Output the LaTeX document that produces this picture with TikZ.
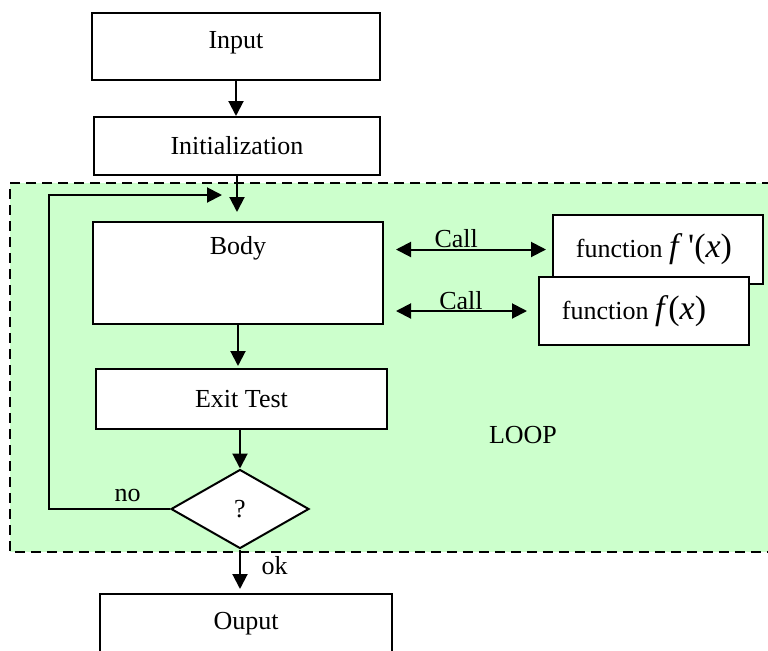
\documentclass[tikz,border=0pt]{standalone}
\usepackage{fontspec}
\setmainfont{Liberation Serif}
\usetikzlibrary{arrows.meta,shapes.geometric}
\definecolor{loopgreen}{RGB}{204,255,204}
\newcommand{\mathpart}[1]{{\fontsize{17}{20}\selectfont #1}}

\begin{document}
\begin{tikzpicture}[
  x=0.5pt, y=-0.5pt,
  font=\fontsize{13}{15}\selectfont,
  box/.style={draw=black, line width=1pt, fill=white, inner sep=2pt},
  arr/.style={line width=1pt, -{Triangle[length=7.5pt,width=7.5pt]}},
  callarr/.style={line width=1pt, {Triangle[length=7.5pt,width=7.5pt]}-{Triangle[length=7.5pt,width=7.5pt]}}
]
  \useasboundingbox (0,0) rectangle (768,650);
  \fill[loopgreen] (10,183) rectangle (772,552);
  \draw[line width=1pt, dash pattern=on 5pt off 3pt] (772,183) -- (10,183) -- (10,552) -- (772,552);
  \node[box, minimum width=144pt, minimum height=33.5pt, label={[yshift=2pt]center:Input}] (input) at (236,46.5) {};
  \node[box, minimum width=143pt, minimum height=29pt] (init) at (237,146) {Initialization};
  \node[box, minimum width=145pt, minimum height=51pt, label={[yshift=12.5pt]center:Body}] (body) at (238,273) {};
  \node[box, minimum width=145.5pt, minimum height=30pt] (exit) at (241.5,399) {Exit Test};
  \node[box, diamond, inner sep=0pt, minimum width=69pt, minimum height=39.5pt] (test) at (240,509) {?};
  \node[box, minimum width=146pt, minimum height=30pt] (output) at (246,624) {Ouput};
  \node[box, minimum width=105pt, minimum height=34.5pt,
    label={[xshift=-2pt]center:function \mathpart{\textit{f}\,\textquotesingle(\textit{x})}}] (fp) at (658,249.5) {};
  \node[box, minimum width=105pt, minimum height=34pt,
    label={[xshift=-5pt]center:function \mathpart{\textit{f}(\textit{x})}}] (f) at (644,311) {};
  \node (loop) at (523,435) {LOOP};
  \coordinate (loopin) at (222,195);
  \draw[arr] (input.south) -- (input.south |- init.north);
  \draw[arr, shorten >=4.5pt] (init.south) -- (init.south |- body.north);
  \draw[arr, shorten >=1pt] (body.south) -- (body.south |- exit.north);
  \draw[arr] (test.north |- exit.south) -- (test.north);
  \draw[arr, shorten >=2pt] (test.south) -- (test.south |- output.north)
    node[pos=0.36, right, xshift=7pt] {ok};
  \draw[arr] (test.west) -- ++(-121,0) node[pos=0.35, above] {no} |- (loopin);
  \draw[callarr, shorten <=6pt, shorten >=3pt] (body.east |- fp.west) -- (fp.west)
    node[pos=0.43, above, yshift=-3pt] {Call};
  \draw[callarr, shorten <=6pt, shorten >=5.5pt] (body.east |- f.west) -- (f.west)
    node[pos=0.5, above, yshift=-3pt] {Call};
\end{tikzpicture}
\end{document}
